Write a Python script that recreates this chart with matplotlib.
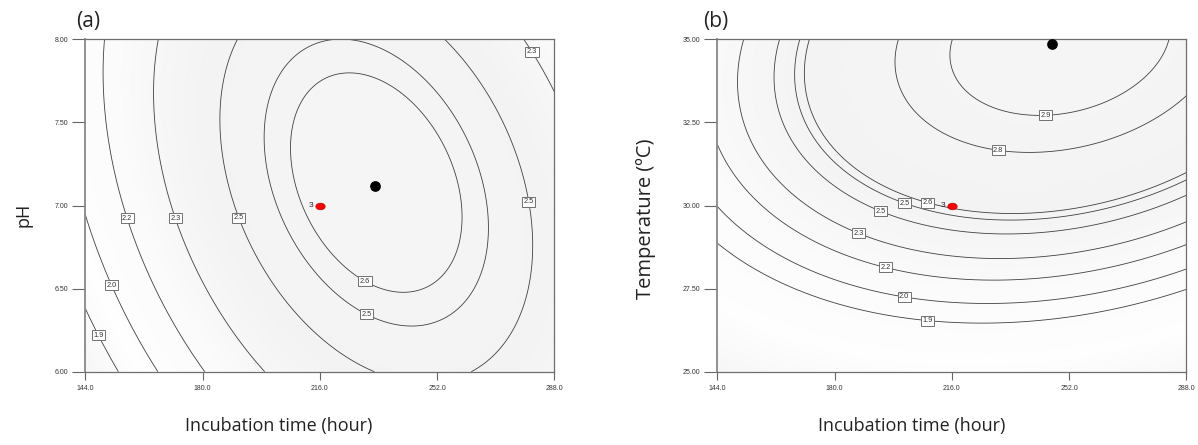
import numpy as np
import matplotlib
matplotlib.use("Agg")
import matplotlib.pyplot as plt
from matplotlib.colors import LinearSegmentedColormap
from matplotlib.path import Path

# ---------------- data ----------------
time_ticks = [144.0, 180.0, 216.0, 252.0, 288.0]
ph_ticks = [6.00, 6.50, 7.00, 7.50, 8.00]
temp_ticks = [25.00, 27.50, 30.00, 32.50, 35.00]

# panel (a): points (incubation time h, pH)
a_c19 = [(144.0, 6.365), (148.3, 6.225), (154.2, 6.0)]
a_c20 = [(144.0, 6.937), (152.3, 6.522), (159.0, 6.25), (165.9, 6.0)]
a_c22 = [(150.0, 8.0), (149.7, 7.8), (150.5, 7.5), (152.1, 7.21), (157.0, 6.92),
         (171.0, 6.33), (179.8, 6.0)]
a_c23 = [(166.6, 8.0), (164.8, 7.7), (165.1, 7.5), (171.5, 6.92), (183.3, 6.45),
         (198.1, 6.0), (278.0, 8.0), (281.3, 7.93), (288.0, 7.675)]
a_c25 = [(190.8, 8.0), (186.4, 7.755), (184.8, 7.454), (190.7, 6.923), (199.7, 6.612),
         (214.0, 6.291), (230.2, 6.0), (253.9, 8.0), (265.2, 7.755), (274.4, 7.454),
         (280.5, 7.027), (281.0, 6.772), (277.5, 6.411), (263.1, 6.0)]
a_c25b = [(223.2, 8.0), (208.9, 7.906), (201.2, 7.695), (198.5, 7.394), (204.8, 6.913),
          (220.1, 6.532), (230.2, 6.345), (244.7, 6.255), (263.1, 6.492), (267.2, 6.853),
          (262.1, 7.414), (252.9, 7.675), (239.6, 7.876)]
a_c26 = [(223.7, 7.779), (216.1, 7.735), (209.9, 7.575), (207.0, 7.294), (208.9, 7.013),
         (224.2, 6.612), (237.5, 6.475), (244.7, 6.475), (252.9, 6.572), (259.0, 6.933),
         (257.0, 7.254), (250.9, 7.474), (238.6, 7.695)]
a_contours = [a_c19, a_c20, a_c22, a_c23, a_c25, a_c25b, a_c26]
a_labels = ["1.9", "2.0", "2.2", "2.3", "2.5", "2.5", "2.6"]
a_fixed = {0: 1.9, 6: 2.6}
# label boxes: (contour index, time, pH)
a_label_pos = [(0, 148.3, 6.225), (1, 152.3, 6.522), (2, 157.0, 6.923),
               (3, 171.5, 6.923), (4, 190.7, 6.923), (6, 230.2, 6.552),
               (5, 230.2, 6.345), (4, 280.2, 7.025), (3, 281.3, 7.926)]
a_center = (216.0, 7.00)
a_optimum = (232.8, 7.12)

# panel (b): points (incubation time h, temperature C)
b_c19 = [(144.0, 28.81), (157.1, 27.96), (172.5, 27.26), (208.8, 26.64), (223.6, 26.42),
         (244.1, 26.55), (264.6, 26.91), (288.0, 27.52)]
b_c20 = [(144.0, 29.89), (157.1, 28.86), (172.5, 27.96), (201.6, 27.33), (222.6, 27.01),
         (244.1, 27.11), (264.6, 27.56), (288.0, 28.09)]
b_c22 = [(144.0, 31.52), (157.1, 30.27), (172.5, 29.26), (195.7, 28.14), (223.6, 27.66),
         (244.1, 27.76), (264.6, 28.16), (288.0, 28.75)]
b_c23 = [(152.0, 35.0), (150.45, 33.78), (151.0, 32.77), (155.05, 31.77), (162.2, 30.87),
         (172.5, 30.07), (187.3, 29.21), (203.2, 28.66), (229.8, 28.36), (254.3, 28.56),
         (274.8, 29.06), (288.0, 29.47)]
b_c25 = [(163.4, 35.0), (161.7, 33.78), (162.7, 32.77), (167.3, 31.87), (175.5, 30.97),
         (184.7, 30.27), (194.5, 29.89), (208.3, 29.41), (229.8, 29.11), (254.3, 29.26),
         (274.8, 29.81), (288.0, 30.32)]
b_c25b = [(169.6, 35.0), (168.2, 33.98), (168.9, 32.97), (173.5, 31.97), (182.7, 31.07),
          (192.9, 30.47), (201.6, 30.15), (213.4, 29.81), (230.8, 29.51), (254.3, 29.61),
          (274.8, 30.27), (288.0, 30.77)]
b_c26 = [(172.5, 35.0), (171.2, 33.98), (171.9, 32.97), (176.5, 31.97), (185.8, 31.07),
         (197.0, 30.47), (208.8, 30.17), (215.9, 29.99), (230.8, 29.74), (254.3, 29.86),
         (274.8, 30.47), (288.0, 31.04)]
b_c28 = [(199.1, 35.0), (198.5, 34.18), (201.1, 33.27), (208.3, 32.47), (218.5, 31.92),
         (230.4, 31.75), (238.2, 31.57), (254.3, 31.72), (274.8, 32.47), (288.0, 33.33)]
b_c29 = [(215.2, 35.0), (214.9, 34.28), (219.5, 33.48), (228.7, 32.92), (238.2, 32.65),
         (244.6, 32.72), (254.3, 32.87), (269.7, 33.48), (278.9, 34.28), (282.2, 35.0)]
b_contours = [b_c19, b_c20, b_c22, b_c23, b_c25, b_c25b, b_c26, b_c28, b_c29]
b_labels = ["1.9", "2.0", "2.2", "2.3", "2.5", "2.5", "2.6", "2.8", "2.9"]
b_fixed = {0: 1.9, 8: 2.9}
b_label_pos = [(8, 244.6, 32.79), (7, 230.4, 31.75), (5, 201.6, 30.15), (6, 208.8, 30.17),
               (4, 194.5, 29.89), (3, 187.3, 29.21), (2, 195.7, 28.14), (1, 201.6, 27.33),
               (0, 208.8, 26.64)]
b_center = (216.0, 30.00)
b_optimum = (246.9, 34.86)


# ---------------- quadratic response surface fitted to the traced contours ----------------
def fit_surface(contours, fixed, x0, xs, y0, ys):
    free = [k for k in range(len(contours)) if k not in fixed]
    rows, rhs = [], []
    for k, pts in enumerate(contours):
        for (x, y) in pts:
            u, v = (x - x0) / xs, (y - y0) / ys
            row = [1.0, u, v, u * u, u * v, v * v] + [0.0] * len(free)
            if k in fixed:
                rhs.append(fixed[k])
            else:
                row[6 + free.index(k)] = -1.0
                rhs.append(0.0)
            rows.append(row)
    sol = np.linalg.lstsq(np.array(rows), np.array(rhs), rcond=None)[0]
    beta = sol[:6]
    levels = [fixed[k] if k in fixed else sol[6 + free.index(k)] for k in range(len(contours))]

    def f(X, Y):
        u, v = (X - x0) / xs, (Y - y0) / ys
        return beta[0] + beta[1] * u + beta[2] * v + beta[3] * u * u + beta[4] * u * v + beta[5] * v * v
    return f, levels


shade = LinearSegmentedColormap.from_list(
    "shade", [(0.0, "#f6f6f6"), (0.25, "#fefefe"), (0.55, "#fbfbfb"), (0.8, "#f3f3f3"), (1.0, "#f5f5f5")])

line_col = "#404040"
tick_font = "Liberation Sans"
label_font = "Open Sans"


def draw_panel(ax, contours, fixed, labels, label_pos, ylim, y0, ys, yticks, yfmt,
               center, optimum):
    f, levels = fit_surface(contours, fixed, 216.0, 72.0, y0, ys)
    xg = np.linspace(time_ticks[0], time_ticks[-1], 400)
    yg = np.linspace(ylim[0], ylim[1], 400)
    X, Y = np.meshgrid(xg, yg)
    Z = f(X, Y)
    ax.pcolormesh(X, Y, Z, cmap=shade, shading="gouraud", zorder=0, rasterized=True)
    order = np.argsort(levels)
    sorted_levels = [levels[i] for i in order]
    cs = ax.contour(X, Y, Z, levels=sorted_levels, colors=line_col, linewidths=0.6, zorder=2)
    paths = cs.get_paths()
    xr = time_ticks[-1] - time_ticks[0]
    yr = ylim[1] - ylim[0]
    for (k, lx, ly) in label_pos:
        i = list(order).index(k)
        verts = paths[i].vertices
        if len(verts) == 0:
            px, py = lx, ly
        else:
            d = ((verts[:, 0] - lx) / xr * 469) ** 2 + ((verts[:, 1] - ly) / yr * 333) ** 2
            j = int(np.argmin(d))
            px, py = verts[j]
        ax.text(px, py, labels[k], ha="center", va="center", fontsize=5.3,
                family=tick_font, color="#333333", zorder=4,
                bbox=dict(boxstyle="square,pad=0.2", fc="white", ec="#707070", lw=0.7))

    circ = Path.unit_circle()
    ell = Path(circ.vertices * np.array([1.4, 1.0]), circ.codes)
    ax.plot([center[0]], [center[1]], ls="none", marker=ell, ms=6.8, mfc="#ff0000",
            mec="#b00000", mew=0.4, zorder=6)
    ax.annotate("3", xy=center, xytext=(-5, 0), textcoords="offset points",
                ha="right", va="center", fontsize=6, family=tick_font, color="#222222", zorder=6)
    ax.plot([optimum[0]], [optimum[1]], ls="none", marker="o", ms=6.7, mfc="black",
            mec="black", zorder=6, clip_on=False)

    ax.set_xlim(time_ticks[0], time_ticks[-1])
    ax.set_ylim(*ylim)
    ax.set_xticks(time_ticks)
    ax.set_xticklabels([f"{t:.1f}" for t in time_ticks])
    ax.set_yticks(yticks)
    ax.set_yticklabels([yfmt.format(t) for t in yticks])
    ax.tick_params(axis="y", direction="out", length=9.5, width=0.8, color="#666666",
                   labelsize=5, labelcolor="#333333", pad=2.5)
    ax.tick_params(axis="x", direction="out", length=5.5, width=0.8, color="#666666",
                   labelsize=5, labelcolor="#333333", pad=4)
    for lab in ax.get_xticklabels() + ax.get_yticklabels():
        lab.set_family(tick_font)
    for sp in ax.spines.values():
        sp.set_color("#6e6e6e")
        sp.set_linewidth(0.9)
    ax.spines["left"].set_linewidth(1.3)
    ax.spines["left"].set_color("#888888")


W, H = 1198, 445
fig = plt.figure(figsize=(W / 100, H / 100), dpi=100)
fig.patch.set_facecolor("white")

ax_a = fig.add_axes([85.3 / W, 1 - 371.7 / H, (554.3 - 85.3) / W, (371.7 - 39.3) / H])
ax_b = fig.add_axes([717.3 / W, 1 - 371.7 / H, (1186.3 - 717.3) / W, (371.7 - 39.3) / H])

draw_panel(ax_a, a_contours, a_fixed, a_labels, a_label_pos, (6.0, 8.0), 7.0, 1.0,
           ph_ticks, "{:.2f}", a_center, a_optimum)
draw_panel(ax_b, b_contours, b_fixed, b_labels, b_label_pos, (25.0, 35.0), 30.0, 5.0,
           temp_ticks, "{:.2f}", b_center, b_optimum)

txt_col = "#222222"
fig.text(76 / W, 1 - 21 / H, "(a)", ha="left", va="center", fontsize=15, family=label_font, color=txt_col)
fig.text(703 / W, 1 - 21 / H, "(b)", ha="left", va="center", fontsize=15, family=label_font, color=txt_col)
fig.text(279 / W, 1 - 426 / H, "Incubation time (hour)", ha="center", va="center",
         fontsize=13, family=label_font, color=txt_col)
fig.text(912 / W, 1 - 426 / H, "Incubation time (hour)", ha="center", va="center",
         fontsize=13, family=label_font, color=txt_col)
fig.text(23 / W, 1 - 215 / H, "pH", ha="center", va="center", rotation=90,
         fontsize=13, family=label_font, color=txt_col)
fig.text(646 / W, 1 - 219 / H, "Temperature (\u00baC)", ha="center", va="center", rotation=90,
         fontsize=14.5, family=label_font, color=txt_col)

fig.savefig("out.png", dpi=100)
